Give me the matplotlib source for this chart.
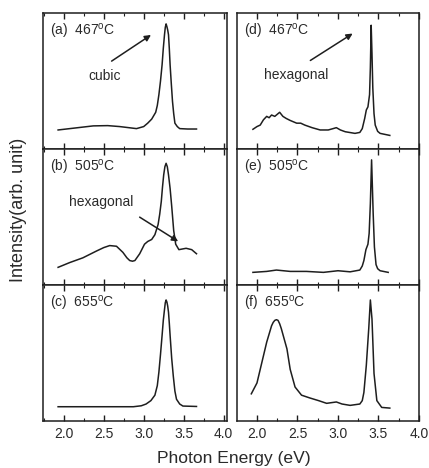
import matplotlib
matplotlib.use('Agg')
import matplotlib.pyplot as plt
from matplotlib.ticker import MultipleLocator

plt.rcParams['font.family'] = ['Liberation Sans', 'DejaVu Sans']
plt.rcParams['mathtext.fontset'] = 'custom'
plt.rcParams['mathtext.rm'] = 'Liberation Sans'

# PL spectra (energy in eV, intensity normalised to panel height)
a_energy = [1.93, 2.15, 2.37, 2.55, 2.70, 2.91, 3.00, 3.05, 3.10, 3.15, 3.17, 3.19,
            3.21, 3.23, 3.245, 3.26, 3.27, 3.28, 3.29, 3.30, 3.31, 3.32, 3.33, 3.345,
            3.36, 3.375, 3.39, 3.42, 3.45, 3.55, 3.66]
a_int = [0.14, 0.155, 0.17, 0.172, 0.165, 0.15, 0.165, 0.19, 0.22, 0.27, 0.32, 0.40,
         0.50, 0.62, 0.74, 0.84, 0.895, 0.92, 0.90, 0.875, 0.84, 0.74, 0.62, 0.48,
         0.35, 0.26, 0.19, 0.165, 0.15, 0.147, 0.147]

b_energy = [1.93, 2.075, 2.24, 2.41, 2.50, 2.575, 2.66, 2.74, 2.79, 2.825, 2.86, 2.89,
            2.95, 3.01, 3.05, 3.10, 3.14, 3.18, 3.20, 3.22, 3.235, 3.25, 3.265, 3.28,
            3.295, 3.31, 3.33, 3.35, 3.375, 3.40, 3.44, 3.53, 3.60, 3.66]
b_int = [0.13, 0.165, 0.20, 0.25, 0.275, 0.29, 0.285, 0.24, 0.20, 0.18, 0.175, 0.18,
         0.23, 0.30, 0.32, 0.335, 0.37, 0.445, 0.52, 0.615, 0.72, 0.81, 0.87, 0.895,
         0.87, 0.81, 0.71, 0.58, 0.40, 0.30, 0.26, 0.27, 0.26, 0.23]

c_energy = [1.93, 2.40, 2.87, 2.97, 3.03, 3.09, 3.14, 3.17, 3.19, 3.21, 3.23, 3.245,
            3.26, 3.27, 3.28, 3.29, 3.30, 3.31, 3.32, 3.33, 3.35, 3.37, 3.39, 3.41,
            3.45, 3.49, 3.66]
c_int = [0.105, 0.105, 0.105, 0.112, 0.125, 0.15, 0.19, 0.26, 0.36, 0.49, 0.63, 0.74,
         0.82, 0.87, 0.89, 0.875, 0.845, 0.80, 0.72, 0.63, 0.46, 0.33, 0.22, 0.16,
         0.125, 0.11, 0.107]

d_energy = [1.95, 2.00, 2.04, 2.08, 2.12, 2.15, 2.18, 2.22, 2.25, 2.28, 2.32, 2.36,
            2.41, 2.45, 2.49, 2.54, 2.59, 2.68, 2.78, 2.88, 2.94, 2.98, 3.03, 3.09,
            3.21, 3.27, 3.30, 3.33, 3.35, 3.37, 3.39, 3.40, 3.41, 3.42, 3.43, 3.445,
            3.46, 3.49, 3.52, 3.64]
d_int = [0.145, 0.165, 0.176, 0.215, 0.24, 0.23, 0.25, 0.24, 0.255, 0.27, 0.24, 0.225,
         0.21, 0.2, 0.19, 0.19, 0.176, 0.157, 0.14, 0.14, 0.15, 0.157, 0.14, 0.127,
         0.115, 0.122, 0.15, 0.225, 0.287, 0.31, 0.40, 0.60, 0.91, 0.70, 0.45, 0.26,
         0.176, 0.13, 0.115, 0.10]

e_energy = [1.95, 2.12, 2.24, 2.41, 2.61, 2.82, 3.00, 3.15, 3.27, 3.30, 3.32, 3.345,
            3.37, 3.385, 3.40, 3.415, 3.425, 3.435, 3.45, 3.47, 3.49, 3.52, 3.62]
e_int = [0.093, 0.10, 0.11, 0.10, 0.10, 0.093, 0.105, 0.097, 0.11, 0.14, 0.18, 0.26,
         0.30, 0.38, 0.60, 0.92, 0.72, 0.52, 0.28, 0.15, 0.12, 0.105, 0.093]

f_energy = [1.93, 2.00, 2.06, 2.12, 2.18, 2.20, 2.22, 2.24, 2.26, 2.28, 2.30, 2.37,
            2.41, 2.47, 2.55, 2.65, 2.76, 2.86, 2.98, 3.05, 3.15, 3.27, 3.30, 3.32,
            3.35, 3.38, 3.40, 3.42, 3.445, 3.48, 3.54, 3.64]
f_int = [0.20, 0.28, 0.43, 0.58, 0.70, 0.725, 0.74, 0.745, 0.74, 0.715, 0.68, 0.53,
         0.38, 0.25, 0.19, 0.17, 0.15, 0.13, 0.14, 0.125, 0.115, 0.125, 0.15, 0.21,
         0.41, 0.68, 0.89, 0.75, 0.35, 0.15, 0.10, 0.095]

panel_tags = ['(a)', '(b)', '(c)', '(d)', '(e)', '(f)']
temps = ['467', '505', '655', '467', '505', '655']
tick_vals = [2.0, 2.5, 3.0, 3.5, 4.0]

spectra = [(a_energy, a_int), (b_energy, b_int), (c_energy, c_int),
           (d_energy, d_int), (e_energy, e_int), (f_energy, f_int)]

ink = '#1e1e1e'
txt = '#2a2a2a'

fig = plt.figure(figsize=(4.29, 4.68), dpi=100)

col_x = [0.100, 0.5524]
col_w = [0.4289, 0.4242]
col_xlim = [(1.74, 4.04), (1.753, 4.0)]
top, bottom = 0.9722, 0.1004
row_h = (top - bottom) / 3

axes = []
for i in range(6):
    col, row = divmod(i, 3)
    ax = fig.add_axes([col_x[col], top - (row + 1) * row_h, col_w[col], row_h])
    x, y = spectra[i]
    ax.plot(x, y, color=ink, lw=1.1)
    ax.set_xlim(*col_xlim[col])
    ax.set_ylim(0, 1)
    ax.set_yticks([])
    ax.set_xticks(tick_vals)
    ax.xaxis.set_minor_locator(MultipleLocator(0.25))
    ax.tick_params(axis='x', which='major', direction='in', top=True, bottom=True,
                   length=4, width=1, color=ink, labelsize=10, labelcolor=txt, pad=4)
    ax.tick_params(axis='x', which='minor', direction='in', top=True, bottom=True,
                   length=2.5, width=0.8, color=ink)
    if row < 2:
        ax.set_xticklabels([])
    for s in ax.spines.values():
        s.set_linewidth(1.1)
        s.set_color(ink)
    ax.text(0.04, 0.865, panel_tags[i] + '  ' + temps[i] + r'$^{\rm o}$C',
            transform=ax.transAxes, fontsize=10, color=txt, va='center', ha='left')
    axes.append(ax)

# annotations
axes[0].text(2.51, 0.54, 'cubic', fontsize=10, color=txt, ha='center', va='center')
axes[0].annotate('', xy=(3.12, 0.85), xytext=(2.57, 0.635),
                 arrowprops=dict(arrowstyle='-|>', color=ink, lw=1.1, mutation_scale=9))
axes[3].text(2.49, 0.545, 'hexagonal', fontsize=10, color=txt, ha='center', va='center')
axes[3].annotate('', xy=(3.21, 0.86), xytext=(2.63, 0.64),
                 arrowprops=dict(arrowstyle='-|>', color=ink, lw=1.1, mutation_scale=9))
axes[1].text(2.47, 0.61, 'hexagonal', fontsize=10, color=txt, ha='center', va='center')
axes[1].annotate('', xy=(3.46, 0.31), xytext=(2.92, 0.51),
                 arrowprops=dict(arrowstyle='-|>', color=ink, lw=1.1, mutation_scale=9))

fig.text(0.042, 0.551, 'Intensity(arb. unit)', rotation=90, fontsize=13,
         color=txt, ha='center', va='center')
fig.text(0.545, 0.021, 'Photon Energy (eV)', fontsize=12.6, color=txt,
         ha='center', va='center')

fig.savefig('out.png', dpi=100)
plt.close(fig)
